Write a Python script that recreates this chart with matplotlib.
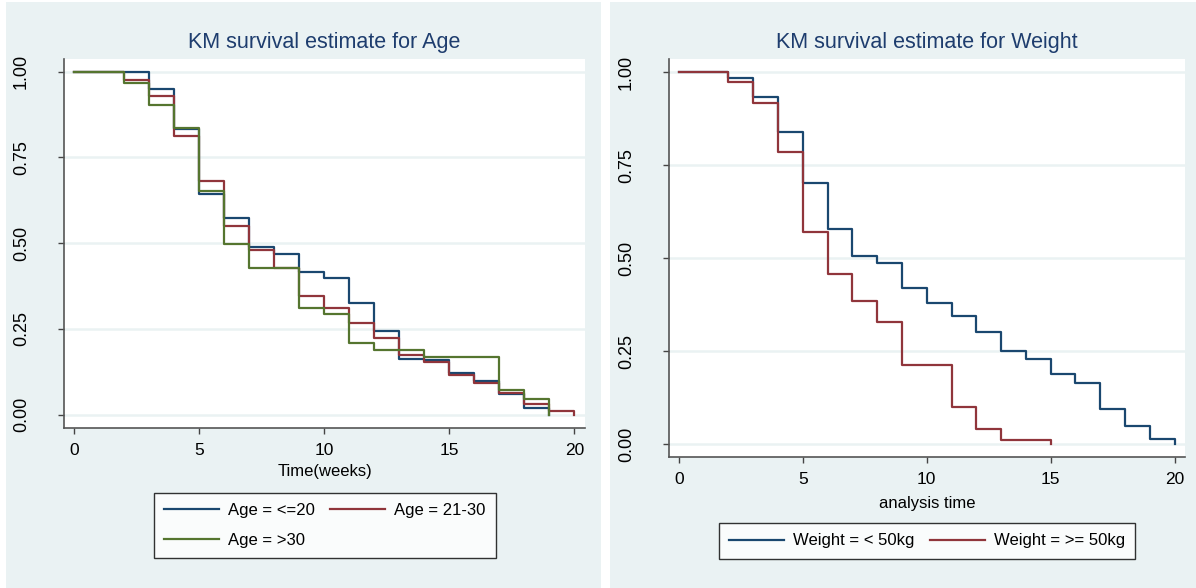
import matplotlib
matplotlib.use('Agg')
import matplotlib.pyplot as plt
from matplotlib.patches import Rectangle

# survival estimates read at each week (step changes at integer weeks)
weeks = list(range(21))

age_le20 = [1.0, 1.0, 1.0, 0.950, 0.832, 0.644, 0.574, 0.488, 0.468, 0.417,
            0.397, 0.326, 0.244, 0.161, 0.159, 0.121, 0.098, 0.061, 0.019, 0.0]
age_21_30 = [1.0, 1.0, 0.976, 0.929, 0.813, 0.682, 0.549, 0.481, 0.429, 0.347,
             0.312, 0.267, 0.222, 0.174, 0.154, 0.115, 0.092, 0.063, 0.031, 0.010, 0.0]
age_gt30 = [1.0, 1.0, 0.968, 0.903, 0.836, 0.651, 0.498, 0.429, 0.429, 0.312,
            0.292, 0.209, 0.188, 0.188, 0.168, 0.168, 0.168, 0.071, 0.047, 0.0]

weight_lt50 = [1.0, 1.0, 0.985, 0.933, 0.840, 0.703, 0.578, 0.505, 0.486, 0.420,
               0.380, 0.345, 0.302, 0.251, 0.229, 0.189, 0.165, 0.095, 0.048, 0.014, 0.0]
weight_ge50 = [1.0, 1.0, 0.973, 0.916, 0.786, 0.571, 0.458, 0.385, 0.329, 0.214,
               0.214, 0.100, 0.042, 0.013, 0.013, 0.0]

age_labels = ['Age = <=20', 'Age = 21-30', 'Age = >30']
weight_labels = ['Weight = < 50kg', 'Weight = >= 50kg']

x_ticks = [0, 5, 10, 15, 20]
y_ticks = [0.0, 0.25, 0.5, 0.75, 1.0]

BG = '#eaf2f3'
NAVY = '#1a476f'
MAROON = '#90353b'
GREEN = '#55752f'
W, H = 1196, 588

plt.rcParams['font.family'] = ['Liberation Sans', 'DejaVu Sans']

fig = plt.figure(figsize=(W / 100, H / 100), dpi=100, facecolor='white')


def px_box(x0, y0, x1, y1):
    # pixel box (top-left origin) -> figure fraction [left, bottom, width, height]
    return [x0 / W, 1 - y1 / H, (x1 - x0) / W, (y1 - y0) / H]


# light graph regions behind each plot
for x0, x1 in [(6, 601), (610, 1196)]:
    l, b, w, h = px_box(x0, 2, x1, 588)
    fig.patches.append(Rectangle((l, b), w, h, transform=fig.transFigure,
                                 facecolor=BG, edgecolor='none', zorder=-10))


def km_panel(rect, series, colors, labels, title, xlabel, ylim, legend_x, legend_top, xlabelpad):
    ax = fig.add_axes(px_box(*rect))
    ax.set_facecolor('white')
    handles = []
    for vals, c, lab in zip(series, colors, labels):
        ln, = ax.step(weeks[:len(vals)], vals, where='post', color=c, lw=1.6, label=lab, zorder=3)
        handles.append(ln)
    ax.set_xlim(-0.4, 20.42)
    ax.set_ylim(*ylim)
    ax.set_xticks(x_ticks)
    ax.set_yticks(y_ticks)
    ax.set_yticklabels(['%.2f' % v for v in y_ticks], rotation=90, va='center', fontsize=13)
    ax.tick_params(axis='y', length=4, width=1, color='#444444', pad=20.5)
    ax.tick_params(axis='x', length=4, width=1, color='#444444', pad=7, labelsize=12.5)
    for sp in ['top', 'right']:
        ax.spines[sp].set_visible(False)
    for sp in ['left', 'bottom']:
        ax.spines[sp].set_color('#555555')
        ax.spines[sp].set_linewidth(1.2)
    ax.grid(axis='y', color=BG, lw=1.8, zorder=1)
    ax.set_axisbelow(True)
    ax.set_title(title, fontsize=15.5, color='#1e3d6e', pad=8)
    ax.set_xlabel(xlabel, fontsize=12, labelpad=xlabelpad)

    # two columns, filled row by row
    if len(handles) == 3:
        handles = [handles[0], handles[2], handles[1]]
    leg = ax.legend(handles=handles, loc='upper center',
                    bbox_to_anchor=(legend_x / W, 1 - legend_top / H),
                    bbox_transform=fig.transFigure, ncol=2, fontsize=12,
                    frameon=True, fancybox=False, edgecolor='black', borderaxespad=0,
                    handlelength=3.3, handletextpad=0.55, columnspacing=0.9,
                    labelspacing=0.85, borderpad=0.62)
    leg.get_frame().set_linewidth(1.0)
    return ax


km_panel((64, 59, 585, 428), [age_le20, age_21_30, age_gt30], [NAVY, MAROON, GREEN],
         age_labels, 'KM survival estimate for Age', 'Time(weeks)',
         (-0.039, 1.037), 325, 493, 4)

km_panel((669, 59, 1185, 457), [weight_lt50, weight_ge50], [NAVY, MAROON],
         weight_labels, 'KM survival estimate for Weight', 'analysis time',
         (-0.034, 1.035), 927, 523, 6)

fig.savefig('out.png', dpi=100, facecolor='white')
